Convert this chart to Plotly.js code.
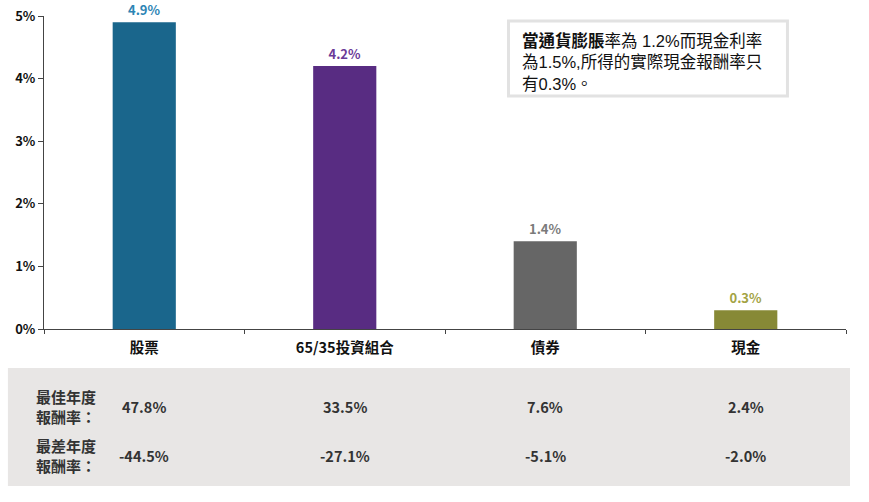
<!DOCTYPE html>
<html>
<head>
<meta charset="utf-8">
<script src="https://cdn.plot.ly/plotly-3.0.1.min.js"></script>
<style>html,body{margin:0;padding:0;background:#fff;}#chart{width:869px;height:502px;}</style>
</head>
<body>
<div id="chart"></div>
<script>
const categories = ["股票", "65/35投資組合", "債券", "現金"];
const avgReturns = [4.9, 4.2, 1.4, 0.3];
const bestYear = ["47.8%", "33.5%", "7.6%", "2.4%"];
const worstYear = ["-44.5%", "-27.1%", "-5.1%", "-2.0%"];
const yTickVals = [0, 1, 2, 3, 4, 5];
const yTickText = ["0%", "1%", "2%", "3%", "4%", "5%"];
const barColors = ["#1A668C", "#582C82", "#666666", "#878936"];
const labelColors = ["#2C84B4", "#6A3A98", "#7A7A7A", "#A3A344"];

const FONT = "'Noto Sans CJK TC', 'Liberation Sans', sans-serif";
const TEXTFONT = "'Liberation Sans', 'Noto Sans CJK TC', sans-serif";

const trace = {
  type: "bar",
  x: categories,
  y: avgReturns,
  width: 0.315,
  marker: {color: barColors},
  text: avgReturns.map(v => v.toFixed(1) + "%"),
  textposition: "outside",
  textfont: {family: FONT, size: 13, color: labelColors, weight: "bold"},
  cliponaxis: false,
  hoverinfo: "none"
};

const annotations = [];
// table values
categories.forEach((c, i) => {
  annotations.push({xref: "x", yref: "paper", x: c, y: -0.2492, yanchor: "middle", text: "<b>" + bestYear[i] + "</b>",
    showarrow: false, font: {family: FONT, size: 14.5, color: "#333333"}});
  annotations.push({xref: "x", yref: "paper", x: c, y: -0.4026, yanchor: "middle", text: "<b>" + worstYear[i] + "</b>",
    showarrow: false, font: {family: FONT, size: 14.5, color: "#333333"}});
});
annotations.push({xref: "paper", yref: "paper", x: -0.012, y: -0.2492, xanchor: "left", yanchor: "middle", align: "left",
  text: "<b>最佳年度<br>報酬率：</b>", showarrow: false, font: {family: FONT, size: 15, color: "#333333"}});
annotations.push({xref: "paper", yref: "paper", x: -0.012, y: -0.4026, xanchor: "left", yanchor: "middle", align: "left",
  text: "<b>最差年度<br>報酬率：</b>", showarrow: false, font: {family: FONT, size: 15, color: "#333333"}});
// note text
annotations.push({xref: "paper", yref: "paper", x: 0.5948, y: 0.853, xanchor: "left", yanchor: "middle", align: "left",
  text: "<b>當通貨膨脹</b>率為 1.2%而現金利率<br>為1.5%,所得的實際現金報酬率只<br>有0.3%。",
  showarrow: false, borderpad: 0,
  font: {family: TEXTFONT, size: 16.5, color: "#111111"}});

const layout = {
  width: 869, height: 502,
  margin: {l: 44, r: 23, t: 16, b: 173},
  paper_bgcolor: "#ffffff", plot_bgcolor: "#ffffff",
  showlegend: false,
  xaxis: {
    range: [-0.5, 3.5], showgrid: false, zeroline: false,
    showline: true, linecolor: "#444444", linewidth: 1,
    ticks: "outside", tickson: "boundaries", ticklen: 4, tickcolor: "#444444",
    ticklabelstandoff: 6,
    tickfont: {family: FONT, size: 14.5, color: "#111111", weight: "bold"}
  },
  yaxis: {
    range: [0, 5], tickvals: yTickVals, ticktext: yTickText, showgrid: false, zeroline: false,
    showline: true, linecolor: "#444444", linewidth: 1,
    ticks: "outside", ticklen: 5, tickcolor: "#444444",
    tickfont: {family: FONT, size: 13, color: "#111111", weight: "bold"}
  },
  shapes: [
    {type: "rect", xref: "paper", yref: "paper", x0: -0.045, x1: 1.005, y0: -0.5016, y1: -0.1246,
      fillcolor: "#E8E6E5", line: {width: 0}, layer: "below"},
    {type: "rect", xref: "paper", yref: "paper", x0: 0.5792, x1: 0.9270, y0: 0.7444, y1: 0.9840,
      fillcolor: "#ffffff", line: {width: 3, color: "#E2E2E2"}, layer: "above"}
  ],
  annotations: annotations
};

Plotly.newPlot("chart", [trace], layout, {displayModeBar: false, staticPlot: true});
</script>
</body>
</html>
